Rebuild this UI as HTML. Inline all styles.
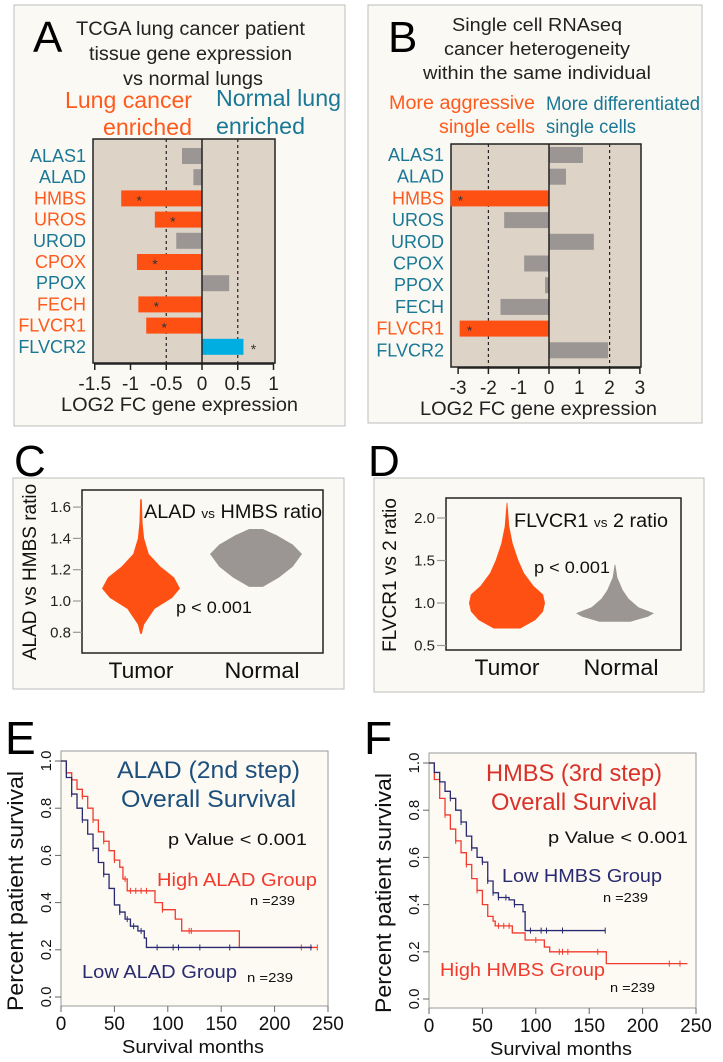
<!DOCTYPE html>
<html><head><meta charset="utf-8"><style>
html,body{margin:0;padding:0;background:#fff}
svg{display:block;font-family:"Liberation Sans",Arial,sans-serif}
</style></head><body>
<svg id="fig" width="723" height="1062" viewBox="0 0 723 1062">
<rect x="14" y="5" width="331" height="421" fill="#fbf9f3" stroke="#bdbdbd"/>
<rect x="368" y="5" width="334" height="418" fill="#fbf9f3" stroke="#bdbdbd"/>
<rect x="13" y="478" width="331" height="211" fill="#fbf9f3" stroke="#bdbdbd"/>
<rect x="374" y="478" width="330" height="214" fill="#fbf9f3" stroke="#bdbdbd"/>
<rect x="61" y="751" width="267" height="255" fill="#fcfaf3" stroke="#999"/>
<rect x="429" y="753" width="267" height="255" fill="#fcfaf3" stroke="#999"/>

<text x="33" y="52" font-size="44">A</text>
<g font-size="19" fill="#222">
<text x="76" y="35" textLength="229" lengthAdjust="spacingAndGlyphs">TCGA lung cancer patient</text>
<text x="89" y="60" textLength="203" lengthAdjust="spacingAndGlyphs">tissue gene expression</text>
<text x="123" y="85" textLength="140" lengthAdjust="spacingAndGlyphs">vs normal lungs</text></g>
<g font-size="23">
<text x="65" y="108" fill="#ff5a1e" textLength="127" lengthAdjust="spacingAndGlyphs">Lung cancer</text>
<text x="103" y="135" fill="#ff5a1e" textLength="89" lengthAdjust="spacingAndGlyphs">enriched</text>
<text x="216" y="106" fill="#1a7896" textLength="125" lengthAdjust="spacingAndGlyphs">Normal lung</text>
<text x="216" y="134" fill="#1a7896" textLength="89" lengthAdjust="spacingAndGlyphs">enriched</text></g>

<text x="388" y="52" font-size="44">B</text>
<g font-size="18" fill="#222">
<text x="452" y="31" textLength="170" lengthAdjust="spacingAndGlyphs">Single cell RNAseq</text>
<text x="444" y="55" textLength="186" lengthAdjust="spacingAndGlyphs">cancer heterogeneity</text>
<text x="423" y="79" textLength="228" lengthAdjust="spacingAndGlyphs">within the same individual</text></g>
<g font-size="19">
<text x="389" y="109" fill="#ff5a1e" textLength="146" lengthAdjust="spacingAndGlyphs">More aggressive</text>
<text x="439" y="133" fill="#ff5a1e" textLength="96" lengthAdjust="spacingAndGlyphs">single cells</text>
<text x="546" y="110" fill="#1a7896" textLength="154" lengthAdjust="spacingAndGlyphs">More differentiated</text>
<text x="546" y="133" fill="#1a7896" textLength="90" lengthAdjust="spacingAndGlyphs">single cells</text></g>

<text x="14" y="476" font-size="44">C</text>
<text x="368" y="476" font-size="44">D</text>
<text x="5" y="754" font-size="46">E</text>
<text x="364" y="754" font-size="46">F</text>
<g id="dyn"></g>
</svg>
<script>
// ---- Panel A data ----
const genesA=["ALAS1","ALAD","HMBS","UROS","UROD","CPOX","PPOX","FECH","FLVCR1","FLVCR2"];
const valsA=[-0.28,-0.12,-1.13,-0.66,-0.36,-0.91,0.38,-0.89,-0.78,0.58];
const sigA=[0,0,1,1,0,1,0,1,1,1];
const ticksA=[-1.5,-1,-0.5,0,0.5,1];
// ---- Panel B data ----
const genesB=["ALAS1","ALAD","HMBS","UROS","UROD","CPOX","PPOX","FECH","FLVCR1","FLVCR2"];
const valsB=[1.12,0.56,-3.25,-1.48,1.48,-0.82,-0.13,-1.6,-2.95,1.95];
const sigB=[0,0,1,0,0,0,0,0,1,0];
const ticksB=[-3,-2,-1,0,1,2,3];
// ---- Panel C data (violin profiles: value, relative half-width) ----
const ticksC=[0.8,1.0,1.2,1.4,1.6];
const tumorC=[[0.79,0.02],[0.85,0.08],[0.95,0.35],[1.02,0.8],[1.08,1],[1.15,0.85],[1.22,0.5],[1.3,0.2],[1.4,0.08],[1.5,0.04],[1.65,0.02]];
const normalC=[[1.09,0.15],[1.15,0.5],[1.22,0.8],[1.3,1],[1.36,0.8],[1.42,0.45],[1.46,0.15]];
// ---- Panel D data ----
const ticksD=[0.5,1.0,1.5,2.0];
const tumorD=[[0.7,0.35],[0.8,0.75],[0.9,0.95],[1.0,1],[1.1,0.95],[1.2,0.7],[1.35,0.45],[1.5,0.3],[1.7,0.15],[1.9,0.06],[2.18,0.01]];
const normalD=[[0.78,0.4],[0.84,0.85],[0.88,1],[0.95,0.6],[1.05,0.35],[1.15,0.2],[1.3,0.06],[1.45,0.01]];
// ---- Panel E/F data (months, survival) ----
const xTicksKM=[0,50,100,150,200,250];
const yTicksKM=[0,0.2,0.4,0.6,0.8,1.0];
const highE=[[0,1],[5,.95],[10,.92],[15,.88],[20,.85],[25,.8],[30,.75],[35,.7],[40,.66],[45,.62],[50,.58],[55,.55],[58,.5],[62,.45],[87,.45],[88,.4],[95,.37],[106,.37],[107,.33],[113,.28],[166,.28],[167,.21],[240,.21]];
const lowE=[[0,1],[5,.93],[10,.86],[15,.8],[20,.75],[25,.69],[30,.63],[35,.57],[40,.52],[45,.46],[50,.39],[55,.36],[60,.33],[65,.3],[72,.28],[78,.25],[80,.21],[235,.21]];
const lowF=[[0,1],[5,.96],[10,.92],[15,.88],[20,.85],[25,.8],[30,.75],[35,.69],[40,.64],[45,.6],[50,.58],[55,.5],[60,.45],[65,.43],[75,.42],[80,.4],[88,.37],[90,.29],[165,.29]];
const highF=[[0,1],[5,.93],[10,.85],[15,.78],[20,.72],[25,.67],[30,.62],[35,.57],[40,.51],[45,.46],[50,.4],[55,.35],[60,.33],[62,.31],[75,.31],[78,.28],[90,.25],[105,.25],[108,.22],[113,.2],[165,.2],[166,.15],[242,.15]];
const censHighE=[20,30,40,50,60,65,70,75,80,95,120,122,225,240];
const censLowE=[10,20,30,40,55,62,68,75,90,105,110,130,158,234];
const censLowF=[20,30,40,50,55,60,65,72,80,95,105,110,125,165];
const censHighF=[15,25,35,45,65,70,75,100,122,125,130,158,225,235];

const NS="http://www.w3.org/2000/svg";
const root=document.getElementById('dyn');
function el(tag,attrs,parent,txt){const e=document.createElementNS(NS,tag);for(const k in attrs)e.setAttribute(k,attrs[k]);if(txt!==undefined)e.textContent=txt;(parent||root).appendChild(e);return e;}
const ORANGE="#ff5014",GREY="#9b9593",TEAL="#1a7896",BLUE="#00aee2";

function barPanel(cfg){
  const g=el('g',{});
  
  
  const X=v=>cfg.x0+v*cfg.k;
  el('rect',{x:cfg.l,y:cfg.t,width:cfg.r-cfg.l,height:cfg.b-cfg.t,fill:"#ddd4c7",stroke:"#222","stroke-width":1.5},g);
  cfg.dash.forEach(d=>{const l=el('line',{x1:X(d),x2:X(d),y1:cfg.t,y2:cfg.b,stroke:"#222","stroke-dasharray":"3,3","stroke-width":1.2},g);
    });
  cfg.vals.forEach((v,i)=>{
    const y=cfg.row0+i*cfg.dy;
    const col=cfg.sig[i]?(v<0?ORANGE:BLUE):GREY;
    const r=el('rect',{x:Math.min(X(0),X(v)),y:y-8,width:Math.abs(X(v)-X(0)),height:16,fill:col},g);
    
    
    const lab=el('text',{x:cfg.l-7,y:y+6,"text-anchor":"end","font-size":cfg.fs,fill:(cfg.sig[i]&&v<0)?"#ff5a1e":TEAL},g,cfg.genes[i]);
    
    if(cfg.sig[i]){const ax=v<0?X(v)+cfg.starOff:X(v)+10;
      const s=el('text',{x:ax,y:y+7,"font-size":14,fill:"#333","text-anchor":"middle"},g,"*");
      }
  });
  el('line',{x1:X(0),x2:X(0),y1:cfg.t,y2:cfg.b,stroke:"#222","stroke-width":1.5},g);
  el('line',{x1:X(cfg.ticks[0]),x2:X(cfg.ticks[cfg.ticks.length-1]),y1:cfg.b+1,y2:cfg.b+1,stroke:"#222","stroke-width":1.5},g);
  cfg.ticks.forEach(t=>{el('line',{x1:X(t),x2:X(t),y1:cfg.b,y2:cfg.b+7,stroke:"#222","stroke-width":1.5},g);
    const tl=el('text',{x:X(t),y:cfg.b+27,"text-anchor":"middle","font-size":19,fill:"#222"},g,String(t));
    });
  const xt=el('text',{x:cfg.xtx,y:cfg.b+48,"font-size":19,fill:"#222",textLength:cfg.xtw,lengthAdjust:"spacingAndGlyphs"},g,"LOG2 FC gene expression");
  
}
barPanel({name:'panel-a-chart',genes:genesA,vals:valsA,sig:sigA,ticks:ticksA,l:93,r:275,t:139,b:363,x0:202,k:71.5,dash:[-0.5,0.5],row0:156,dy:21.2,fs:18,starOff:18,xtx:61,xtw:237});
barPanel({name:'panel-b-chart',genes:genesB,vals:valsB,sig:sigB,ticks:ticksB,l:451,r:641,t:144,b:367,x0:549,k:30.3,dash:[-2,2],row0:155,dy:21.7,fs:18,starOff:10,xtx:420,xtw:237});

function violinPanel(cfg){
  const g=el('g',{});
  
  
  const Y=v=>cfg.y0-(v-cfg.v0)*cfg.k;
  el('rect',{x:cfg.l,y:cfg.t,width:cfg.r-cfg.l,height:cfg.b-cfg.t,fill:"none",stroke:"#222","stroke-width":1.5},g);
  cfg.ticks.forEach(t=>{el('line',{x1:cfg.l-9,x2:cfg.l,y1:Y(t),y2:Y(t),stroke:"#999","stroke-width":1.2},g);
    const tl=el('text',{x:cfg.l-11,y:Y(t)+5,"text-anchor":"end","font-size":15,fill:"#222"},g,t.toFixed(1));
    });
  [[cfg.tumor,cfg.cx1,cfg.w1,ORANGE,'violin-tumor'],[cfg.normal,cfg.cx2,cfg.w2,"#9b9593",'violin-normal']].forEach(([prof,cx,w,col,nm])=>{
    let d="M"+(cx)+","+Y(prof[0][0]);
    prof.forEach(p=>d+=" L"+(cx+p[1]*w)+","+Y(p[0]));
    for(let i=prof.length-1;i>=0;i--)d+=" L"+(cx-prof[i][1]*w)+","+Y(prof[i][0]);
    const p=el('path',{d:d+"Z",fill:col,"stroke-linejoin":"round"},g);
    
  });
  const cats=[["Tumor",cfg.cx1,65],["Normal",cfg.cx2+6,75]];
  cats.forEach(([s,x,w])=>{const t=el('text',{x:x-w/2,y:cfg.catY,"font-size":22,fill:"#111",textLength:w,lengthAdjust:"spacingAndGlyphs"},g,s);
    });
  const yt=el('text',{transform:`translate(${cfg.ytx},${cfg.yty}) rotate(-90)`,"text-anchor":"middle","font-size":19,fill:"#111"},g,cfg.ytitle);
  
  const tt=el('text',{x:cfg.ttx,y:cfg.tty,"font-size":19,fill:"#111",textLength:cfg.ttw,lengthAdjust:"spacingAndGlyphs"},g);
  
  el('tspan',{},tt,cfg.title[0]);el('tspan',{"font-size":13},tt,cfg.title[1]);el('tspan',{},tt,cfg.title[2]);
  const pv=el('text',{x:cfg.px,y:cfg.py,"font-size":17,fill:"#111",textLength:76,lengthAdjust:"spacingAndGlyphs"},g,"p < 0.001");
  
}
violinPanel({name:'panel-c-chart',l:82,r:323,t:490,b:653,y0:601,v0:1.0,k:156.5,ticks:ticksC,tumor:tumorC,normal:normalC,cx1:141,w1:39,cx2:256,w2:46,catY:678,ytx:36,yty:572,ytitle:"ALAD vs HMBS ratio",ttx:144,tty:518,ttw:178,title:["ALAD ","vs"," HMBS ratio"],px:176,py:613});
violinPanel({name:'panel-d-chart',l:446,r:681,t:498,b:650,y0:603,v0:1.0,k:85,ticks:ticksD,tumor:tumorD,normal:normalD,cx1:507,w1:38,cx2:615,w2:39,catY:675,ytx:396,yty:575,ytitle:"FLVCR1 vs 2 ratio",ttx:514,tty:527,ttw:154,title:["FLVCR1 ","vs"," 2 ratio"],px:534,py:573});

function kmPanel(cfg){
  const g=el('g',{});
  
  
  const X=m=>cfg.l+m*cfg.kx, Y=s=>cfg.y0-s*cfg.ky;
  xTicksKM.forEach(t=>{el('line',{x1:X(t),x2:X(t),y1:cfg.b,y2:cfg.b+6,stroke:"#666"},g);
    const tl=el('text',{x:X(t),y:cfg.b+24,"text-anchor":"middle","font-size":19,fill:"#111"},g,String(t));
    });
  yTicksKM.forEach(t=>{el('line',{x1:cfg.l-6,x2:cfg.l,y1:Y(t),y2:Y(t),stroke:"#666"},g);
    const tl=el('text',{transform:`translate(${cfg.l-10},${Y(t)}) rotate(-90)`,"text-anchor":"middle","font-size":15,fill:"#111"},g,t.toFixed(1));
    });
  const xt=el('text',{x:cfg.l+61,y:cfg.b+47,"font-size":18,fill:"#111",textLength:142,lengthAdjust:"spacingAndGlyphs"},g,"Survival months");
  
  const yt=el('text',{transform:`translate(${cfg.l-38},${cfg.y0-106}) rotate(-90)`,"font-size":22,fill:"#111","text-anchor":"middle",textLength:240,lengthAdjust:"spacingAndGlyphs"},g,"Percent patient survival");
  
  cfg.curves.forEach(([pts,cens,col,nm])=>{
    let d="M"+X(pts[0][0])+","+Y(pts[0][1]);
    for(let i=1;i<pts.length;i++){d+=" H"+X(pts[i][0])+" V"+Y(pts[i][1]);}
    const p=el('path',{d:d,fill:"none",stroke:col,"stroke-width":1.3},g);
    
    cens.forEach(m=>{let s=pts[0][1];pts.forEach(q=>{if(q[0]<=m)s=q[1];});
      el('line',{x1:X(m),x2:X(m),y1:Y(s)-3,y2:Y(s)+3,stroke:col,"stroke-width":1},g);});
  });
  cfg.texts.forEach(([s,x,y,fs,col,w])=>{const t=el('text',{x:x,y:y,"font-size":fs,fill:col,textLength:w,lengthAdjust:"spacingAndGlyphs"},g,s);
    });
}
kmPanel({name:'panel-e-chart',l:61,b:1006,y0:997,kx:1.068,ky:236,
  curves:[[highE,censHighE,"#f23a2e","curve-high-alad"],[lowE,censLowE,"#2a2a70","curve-low-alad"]],
  texts:[["ALAD (2nd step)",117,778,24,"#1d4f7c",183],["Overall Survival",121,807,24,"#1d4f7c",175],["p Value < 0.001",168,845,17,"#111",139],["High ALAD Group",157,886,18,"#f23a2e",160],["n =239",250,905,13,"#111",45],["Low ALAD Group",82,978,18,"#2a2a70",155],["n =239",247,982,13,"#111",46]]});
kmPanel({name:'panel-f-chart',l:429,b:1008,y0:999,kx:1.068,ky:236,
  curves:[[highF,censHighF,"#f23a2e","curve-high-hmbs"],[lowF,censLowF,"#2a2a70","curve-low-hmbs"]],
  texts:[["HMBS (3rd step)",486,781,24,"#d8322a",176],["Overall Survival",491,810,24,"#d8322a",166],["p Value < 0.001",548,843,17,"#111",140],["Low HMBS Group",502,882,18,"#2a2a70",160],["n =239",603,902,13,"#111",45],["High HMBS Group",440,976,18,"#f23a2e",165],["n =239",610,992,13,"#111",45]]});
</script>
</body></html>
